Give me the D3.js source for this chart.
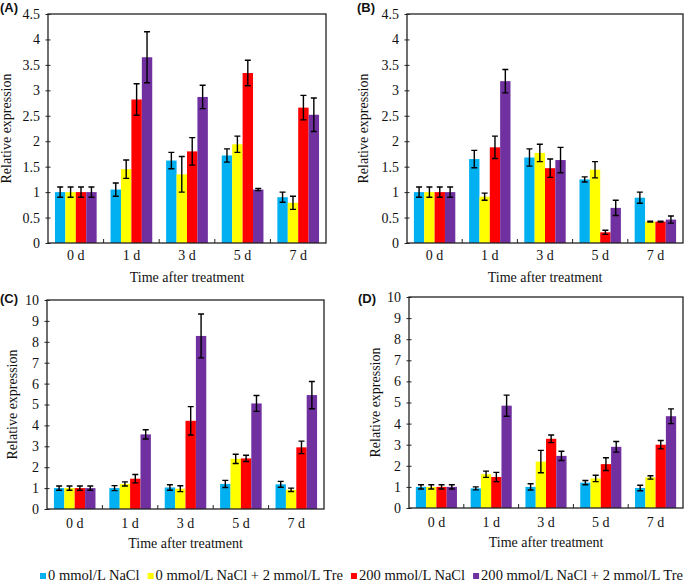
<!DOCTYPE html>
<html><head><meta charset="utf-8">
<script src="https://cdn.jsdelivr.net/npm/d3@7"></script>
<style>body{margin:0;background:#fff;font-family:"Liberation Serif"}
#preload{position:absolute;left:-2000px;top:-2000px}</style>
</head><body>
<div id="preload"><span style="font-family:'Liberation Serif'">0 d</span><b style="font-family:'Liberation Sans'">(A)</b></div>
<svg id="c" width="685" height="582" font-family="Liberation Serif"></svg>
<script>
const categories = ["0 d","1 d","3 d","5 d","7 d"];
const seriesNames = ["0 mmol/L NaCl","0 mmol/L NaCl + 2 mmol/L Tre","200 mmol/L NaCl","200 mmol/L NaCl + 2 mmol/L Tre"];
const colors = ["#00B0F0","#FFFF00","#FF0000","#7030A0"];

// values[series][category]
const valuesA = [[1,1.05,1.62,1.72,0.90],[1,1.45,1.35,1.94,0.79],[1,2.82,1.80,3.34,2.66],[1,3.65,2.87,1.05,2.52]];
const errorsA = [[0.10,0.13,0.16,0.13,0.10],[0.10,0.18,0.35,0.16,0.13],[0.10,0.31,0.27,0.25,0.24],[0.10,0.50,0.23,0.02,0.33]];
const valuesB = [[1,1.65,1.68,1.25,0.89],[1,0.91,1.77,1.44,0.42],[1,1.88,1.47,0.21,0.42],[1,3.18,1.63,0.69,0.46]];
const errorsB = [[0.10,0.17,0.17,0.05,0.11],[0.10,0.07,0.17,0.16,0.01],[0.10,0.22,0.18,0.04,0.01],[0.10,0.23,0.25,0.15,0.07]];
const valuesC = [[1,1.00,1.03,1.20,1.18],[1,1.20,0.97,2.40,0.92],[1,1.45,4.22,2.42,2.95],[1,3.57,8.28,5.05,5.45]];
const errorsC = [[0.10,0.12,0.13,0.17,0.14],[0.10,0.10,0.14,0.22,0.08],[0.10,0.20,0.68,0.15,0.30],[0.10,0.22,1.05,0.38,0.65]];
const valuesD = [[1,0.93,1.00,1.20,0.95],[1,1.60,2.20,1.40,1.45],[1,1.47,3.28,2.08,3.00],[1,4.85,2.47,2.90,4.35]];
const errorsD = [[0.10,0.07,0.15,0.10,0.13],[0.10,0.15,0.53,0.15,0.08],[0.10,0.22,0.18,0.30,0.20],[0.10,0.50,0.22,0.25,0.35]];
const ticksAB = [0,0.5,1,1.5,2,2.5,3,3.5,4,4.5];
const ticksCD = [0,1,2,3,4,5,6,7,8,9,10];
const yLabel = "Relative expression";
const xLabel = "Time after treatment";

const SERIF = "Liberation Serif";
const SANS = "Liberation Sans";
const svg = d3.select("#c");

function serifText(sel, size) {
  return sel.attr("font-family", SERIF).style("font-family", SERIF).attr("font-size", size).attr("fill", "#111");
}

const panels = [
  {tag:"(A)", vals:valuesA, errs:errorsA, ticks:ticksAB, max:4.5, x0:48, x1:326, y0:14, y1:243, tagX:0, tagY:12, ylx:11, tickY:260, titleY:282},
  {tag:"(B)", vals:valuesB, errs:errorsB, ticks:ticksAB, max:4.5, x0:407, x1:683, y0:14, y1:243, tagX:357, tagY:12, ylx:368, tickY:260, titleY:282},
  {tag:"(C)", vals:valuesC, errs:errorsC, ticks:ticksCD, max:10, x0:47, x1:324, y0:300, y1:509, tagX:0, tagY:303, ylx:17, tickY:528, titleY:548},
  {tag:"(D)", vals:valuesD, errs:errorsD, ticks:ticksCD, max:10, x0:409, x1:683, y0:297, y1:508, tagX:358, tagY:303, ylx:380, tickY:527, titleY:547}
];

panels.forEach(p => {
  const g = svg.append("g").attr("font-family", SERIF);
  const x = d3.scaleBand().domain(categories).range([p.x0, p.x1]).paddingInner(0).paddingOuter(0);
  const gw = x.bandwidth();
  const pad = gw*0.125;
  const xs = d3.scaleBand().domain(d3.range(4)).range([pad, gw - pad]).padding(0);
  const y = d3.scaleLinear().domain([0, p.max]).range([p.y1, p.y0]);

  p.vals.forEach((ser, si) => {
    ser.forEach((v, ci) => {
      g.append("rect")
        .attr("x", x(categories[ci]) + xs(si))
        .attr("y", y(v))
        .attr("width", xs.bandwidth())
        .attr("height", y(0) - y(v))
        .attr("fill", colors[si]);
    });
  });
  p.vals.forEach((ser, si) => {
    ser.forEach((v, ci) => {
      const e = p.errs[si][ci];
      const cx = x(categories[ci]) + xs(si) + xs.bandwidth()/2;
      const cap = 3;
      g.append("path")
        .attr("d", `M${cx},${y(v+e)}V${y(v-e)}M${cx-cap},${y(v+e)}H${cx+cap}M${cx-cap},${y(v-e)}H${cx+cap}`)
        .attr("stroke", "#000").attr("stroke-width", 1.4).attr("fill", "none");
    });
  });

  g.append("rect").attr("x", p.x0).attr("y", p.y0).attr("width", p.x1-p.x0).attr("height", p.y1-p.y0)
    .attr("fill", "none").attr("stroke", "#222").attr("stroke-width", 1.3);

  const ya = d3.axisLeft(y).tickValues(p.ticks).tickSize(0).tickPadding(8).tickFormat(d => String(d));
  const yg = g.append("g").attr("transform", `translate(${p.x0},0)`).call(ya);
  yg.attr("font-family", SERIF).attr("font-size", 14);
  yg.select(".domain").remove();
  serifText(yg.selectAll("text"), 14);
  yg.selectAll(".tick").append("line").attr("x1", -2.5).attr("x2", 2.5).attr("stroke", "#222").attr("stroke-width", 1);

  const xa = d3.axisBottom(x).tickSize(0).tickPadding(0);
  const xg = g.append("g").attr("transform", `translate(0,${p.y1})`).call(xa);
  xg.attr("font-family", SERIF).attr("font-size", 14);
  xg.select(".domain").remove();
  serifText(xg.selectAll("text"), 14).attr("dy", null).attr("y", p.tickY - p.y1);
  categories.slice(1).forEach(c => {
    g.append("line").attr("x1", x(c)).attr("x2", x(c)).attr("y1", p.y1).attr("y2", p.y1-4)
      .attr("stroke", "#222").attr("stroke-width", 1);
  });

  serifText(g.append("text"), 14).attr("x", (p.x0+p.x1)/2).attr("y", p.titleY)
    .attr("text-anchor", "middle").text(xLabel);
  serifText(g.append("text"), 14).attr("transform", `translate(${p.ylx},${(p.y0+p.y1)/2}) rotate(-90)`)
    .attr("text-anchor", "middle").text(yLabel);
  g.append("text").attr("font-family", SANS).style("font-family", SANS).attr("x", p.tagX).attr("y", p.tagY)
    .attr("font-weight", "bold").attr("font-size", 13).attr("fill", "#111").text(p.tag);
});

// legend: laid out from measured text widths so items never overlap
const legLeft = 40, legRight = 683, sq = 6, sqGap = 2;
const lg = svg.append("g").attr("font-family", SERIF);
let legSize = 14.6;
const items = seriesNames.map((n, i) => {
  const r = lg.append("rect").attr("y", 573).attr("width", sq).attr("height", sq).attr("fill", colors[i]);
  const t = serifText(lg.append("text"), legSize).attr("y", 580).text(n);
  return {r, t};
});
let widths = items.map(d => d.t.node().getComputedTextLength());
let natural = d3.sum(widths) + items.length*(sq+sqGap);
const avail = legRight - legLeft;
const minGap = 8;
if (natural + minGap*(items.length-1) > avail) {
  const k = (avail - minGap*(items.length-1) - items.length*(sq+sqGap)) / d3.sum(widths);
  legSize = legSize * k;
  items.forEach(d => d.t.attr("font-size", legSize));
  widths = items.map(d => d.t.node().getComputedTextLength());
  natural = d3.sum(widths) + items.length*(sq+sqGap);
}
const gap = (avail - natural) / (items.length - 1);
let cx = legLeft;
items.forEach((d, i) => {
  d.r.attr("x", cx);
  d.t.attr("x", cx + sq + sqGap);
  cx += sq + sqGap + widths[i] + gap;
});
</script>
</body></html>
